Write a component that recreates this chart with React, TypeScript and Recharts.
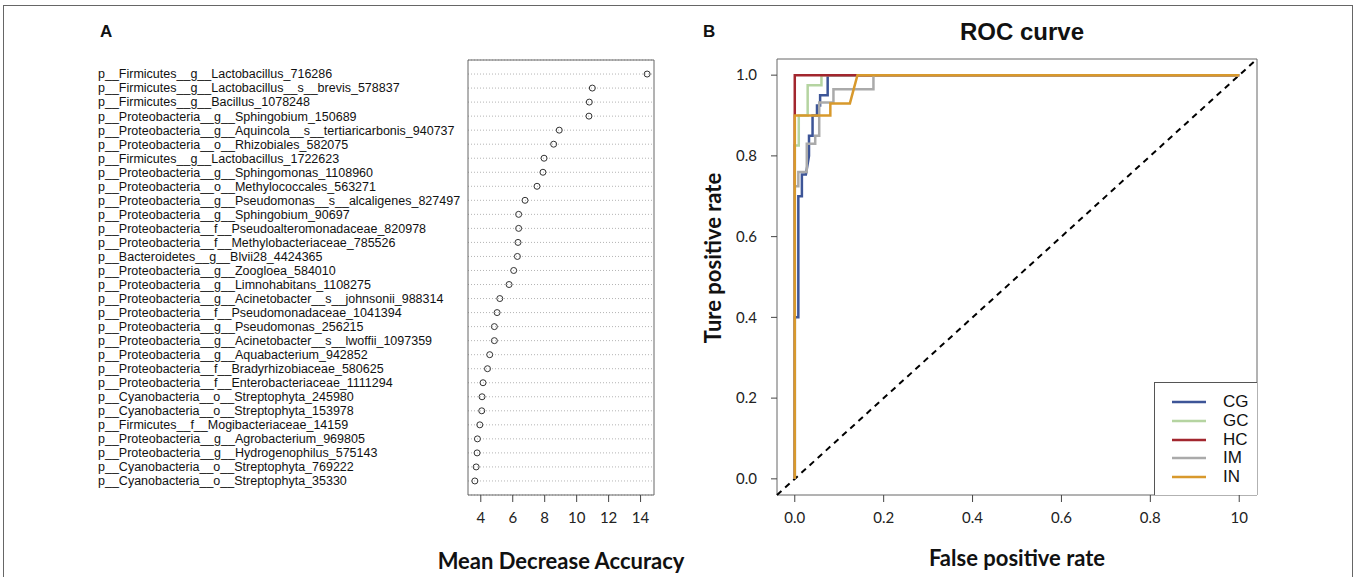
import React from 'react';
import {
  ScatterChart, Scatter, XAxis, YAxis, CartesianGrid, ReferenceArea,
  LineChart, Line, ReferenceLine,
} from 'recharts';

const featureNames = [
  'p__Firmicutes__g__Lactobacillus_716286',
  'p__Firmicutes__g__Lactobacillus__s__brevis_578837',
  'p__Firmicutes__g__Bacillus_1078248',
  'p__Proteobacteria__g__Sphingobium_150689',
  'p__Proteobacteria__g__Aquincola__s__tertiaricarbonis_940737',
  'p__Proteobacteria__o__Rhizobiales_582075',
  'p__Firmicutes__g__Lactobacillus_1722623',
  'p__Proteobacteria__g__Sphingomonas_1108960',
  'p__Proteobacteria__o__Methylococcales_563271',
  'p__Proteobacteria__g__Pseudomonas__s__alcaligenes_827497',
  'p__Proteobacteria__g__Sphingobium_90697',
  'p__Proteobacteria__f__Pseudoalteromonadaceae_820978',
  'p__Proteobacteria__f__Methylobacteriaceae_785526',
  'p__Bacteroidetes__g__Blvii28_4424365',
  'p__Proteobacteria__g__Zoogloea_584010',
  'p__Proteobacteria__g__Limnohabitans_1108275',
  'p__Proteobacteria__g__Acinetobacter__s__johnsonii_988314',
  'p__Proteobacteria__f__Pseudomonadaceae_1041394',
  'p__Proteobacteria__g__Pseudomonas_256215',
  'p__Proteobacteria__g__Acinetobacter__s__lwoffii_1097359',
  'p__Proteobacteria__g__Aquabacterium_942852',
  'p__Proteobacteria__f__Bradyrhizobiaceae_580625',
  'p__Proteobacteria__f__Enterobacteriaceae_1111294',
  'p__Cyanobacteria__o__Streptophyta_245980',
  'p__Cyanobacteria__o__Streptophyta_153978',
  'p__Firmicutes__f__Mogibacteriaceae_14159',
  'p__Proteobacteria__g__Agrobacterium_969805',
  'p__Proteobacteria__g__Hydrogenophilus_575143',
  'p__Cyanobacteria__o__Streptophyta_769222',
  'p__Cyanobacteria__o__Streptophyta_35330',
];

const meanDecreaseAccuracy = [
  14.41, 10.98, 10.79, 10.77, 8.91, 8.56, 7.96, 7.89, 7.52, 6.77,
  6.37, 6.37, 6.33, 6.29, 6.06, 5.77, 5.19, 5.02, 4.85, 4.85,
  4.56, 4.42, 4.14, 4.08, 4.06, 3.94, 3.79, 3.77, 3.71, 3.63,
];

const accuracyTicks = [4, 6, 8, 10, 12, 14];
const accuracyDomain = [3.2, 14.84];
const rowTicks = featureNames.map((_, i) => i + 1);

const rocTicks = [0, 0.2, 0.4, 0.6, 0.8, 1.0];
const rocXTickLabels = ['0.0', '0.2', '0.4', '0.6', '0.8', '10'];
const rocYTickLabels = ['0.0', '0.2', '0.4', '0.6', '0.8', '1.0'];
const rocDomain = [-0.04, 1.04];

const rocCG = [
  [0, 0], [0, 0.4], [0.008, 0.4], [0.008, 0.7], [0.016, 0.7], [0.016, 0.754],
  [0.025, 0.754], [0.032, 0.8], [0.032, 0.85], [0.04, 0.85], [0.04, 0.9],
  [0.05, 0.9], [0.05, 0.925], [0.057, 0.925], [0.057, 0.95], [0.074, 0.95],
  [0.074, 1], [1, 1],
];
const rocGC = [
  [0, 0], [0, 0.826], [0.009, 0.826], [0.009, 0.9], [0.029, 0.9], [0.029, 0.975],
  [0.06, 0.975], [0.06, 1], [1, 1],
];
const rocHC = [[0, 0], [0, 1], [1, 1]];
const rocIM = [
  [0, 0], [0, 0.725], [0.008, 0.725], [0.008, 0.76], [0.027, 0.76], [0.027, 0.83],
  [0.046, 0.83], [0.046, 0.85], [0.055, 0.85], [0.055, 0.932], [0.087, 0.932],
  [0.087, 0.965], [0.177, 0.965], [0.177, 1], [1, 1],
];
const rocIN = [
  [0, 0], [0, 0.9], [0.08, 0.9], [0.08, 0.93], [0.124, 0.93], [0.141, 1], [1, 1],
];

const groupNames = ['CG', 'GC', 'HC', 'IM', 'IN'];
const groupColors = ['#3d5597', '#b5d4a1', '#a2262e', '#aaaaaa', '#d8992c'];
const groupCurves = [rocCG, rocGC, rocHC, rocIM, rocIN];

const toPoints = (arr: number[][]) => arr.map(([fpr, tpr]) => ({ fpr, tpr }));

const scatterData = meanDecreaseAccuracy.map((value, i) => ({ value, row: i + 1 }));

const numFont = 'Lato, "Open Sans", sans-serif';
const helv = '"Liberation Sans", Arial, Helvetica, sans-serif';

const FeatureTick = (props: any) => {
  const { y, payload } = props;
  const name = featureNames[payload.value - 1];
  return (
    <text x={98} y={y} dy="0.35em" textAnchor="start" fontSize={12.5} fontFamily={helv} fill="#111">
      {name}
    </text>
  );
};

const OpenDot = (props: any) => {
  const { cx, cy } = props;
  return <circle cx={cx} cy={cy} r={3} fill="none" stroke="#333" strokeWidth={1} />;
};

const YTitle = (props: any) => {
  const { viewBox } = props;
  const cx = viewBox.x + 22;
  const cy = viewBox.y + viewBox.height / 2 - 19;
  return (
    <text x={cx} y={cy} transform={`rotate(-90 ${cx} ${cy})`} textAnchor="middle" dominantBaseline="central"
      fontSize={22} fontWeight={700} fontFamily={numFont} fill="#111">
      Ture positive rate
    </text>
  );
};

export default function App() {
  return (
    <div style={{ position: 'absolute', left: 0, top: 0, width: 1357, height: 577, background: '#fff', overflow: 'hidden' }}>
      <div style={{ position: 'absolute', left: 3, top: 5, width: 1350, height: 600, border: '1px solid #666', boxSizing: 'border-box' }} />
      <div style={{ position: 'absolute', left: 100, top: 22, fontFamily: helv, fontWeight: 700, fontSize: 17, color: '#111' }}>A</div>
      <div style={{ position: 'absolute', left: 703, top: 22, fontFamily: helv, fontWeight: 700, fontSize: 17, color: '#111' }}>B</div>
      <div style={{ position: 'absolute', left: 917, width: 210, top: 18, textAlign: 'center', fontFamily: helv, fontWeight: 700, fontSize: 24, color: '#111' }}>ROC curve</div>

      <div style={{ position: 'absolute', left: 0, top: 0 }}>
        <ScatterChart width={688} height={577} margin={{ top: 60, right: 34, bottom: 0, left: 0 }}>
          <CartesianGrid vertical={false} stroke="#b4b4b4" strokeDasharray="1 2" />
          <XAxis
            type="number" dataKey="value" domain={accuracyDomain} allowDataOverflow ticks={accuracyTicks}
            height={82} axisLine={false} tickSize={7} tickMargin={10}
            tickLine={{ stroke: '#444' }}
            tick={{ fontSize: 15, fontFamily: numFont, fill: '#222' }}
            label={{ value: 'Mean Decrease Accuracy', position: 'insideBottom', offset: 8, fontSize: 22, fontWeight: 700, fontFamily: numFont, fill: '#111' }}
          />
          <YAxis
            type="number" dataKey="row" domain={[0, featureNames.length + 1]} reversed ticks={rowTicks}
            width={468} axisLine={false} tickLine={false} tick={<FeatureTick />} interval={0}
          />
          <ReferenceArea x1={accuracyDomain[0]} x2={accuracyDomain[1]} y1={0} y2={featureNames.length + 1}
            fill="none" fillOpacity={0} stroke="#666" strokeWidth={1} />
          <Scatter data={scatterData} shape={<OpenDot />} isAnimationActive={false} />
        </ScatterChart>
      </div>

      <div style={{ position: 'absolute', left: 690, top: 0 }}>
        <LineChart width={667} height={577} margin={{ top: 59, right: 100, bottom: 0, left: 0 }}>
          <XAxis
            type="number" dataKey="fpr" domain={rocDomain} allowDataOverflow ticks={rocTicks}
            tickFormatter={(v: number) => rocXTickLabels[rocTicks.indexOf(v)] ?? String(v)}
            height={82} axisLine={false} tickSize={7} tickMargin={10}
            tickLine={{ stroke: '#444' }}
            tick={{ fontSize: 15, fontFamily: numFont, fill: '#222' }}
            label={{ value: 'False positive rate', position: 'insideBottom', offset: 11, fontSize: 22, fontWeight: 700, fontFamily: numFont, fill: '#111' }}
          />
          <YAxis
            type="number" dataKey="tpr" domain={rocDomain} allowDataOverflow ticks={rocTicks}
            tickFormatter={(v: number) => rocYTickLabels[rocTicks.indexOf(v)] ?? String(v)}
            width={87} axisLine={false} tickSize={6} tickMargin={14}
            tickLine={{ stroke: '#444' }}
            tick={{ fontSize: 15, fontFamily: numFont, fill: '#222' }}
            label={<YTitle />}
          />
          <ReferenceArea x1={rocDomain[0]} x2={rocDomain[1]} y1={rocDomain[0]} y2={rocDomain[1]}
            fill="none" fillOpacity={0} stroke="#666" strokeWidth={1} />
          <ReferenceLine segment={[{ x: rocDomain[0], y: rocDomain[0] }, { x: rocDomain[1], y: rocDomain[1] }]}
            stroke="#000" strokeWidth={2} strokeDasharray="6 5" />
          {groupNames.map((name, i) => (
            <Line key={name} name={name} data={toPoints(groupCurves[i])} dataKey="tpr" type="linear"
              stroke={groupColors[i]} strokeWidth={2.5} dot={false} activeDot={false} isAnimationActive={false} />
          ))}
        </LineChart>
      </div>

      <div style={{ position: 'absolute', left: 1154, top: 382, width: 103, height: 113, border: '1px solid #555', borderRight: 'none', borderBottom: 'none', background: '#fff', boxSizing: 'border-box' }}>
        {groupNames.map((name, i) => (
          <div key={name} style={{ position: 'absolute', left: 0, top: 10 + i * 18.8, height: 18, width: 103 }}>
            <svg width={60} height={18} style={{ position: 'absolute', left: 0, top: 0 }}>
              <line x1={17} x2={51} y1={9} y2={9} stroke={groupColors[i]} strokeWidth={2.5} />
            </svg>
            <span style={{ position: 'absolute', left: 68, top: 0, lineHeight: '18px', fontFamily: helv, fontSize: 17, color: '#111' }}>{name}</span>
          </div>
        ))}
      </div>
    </div>
  );
}
